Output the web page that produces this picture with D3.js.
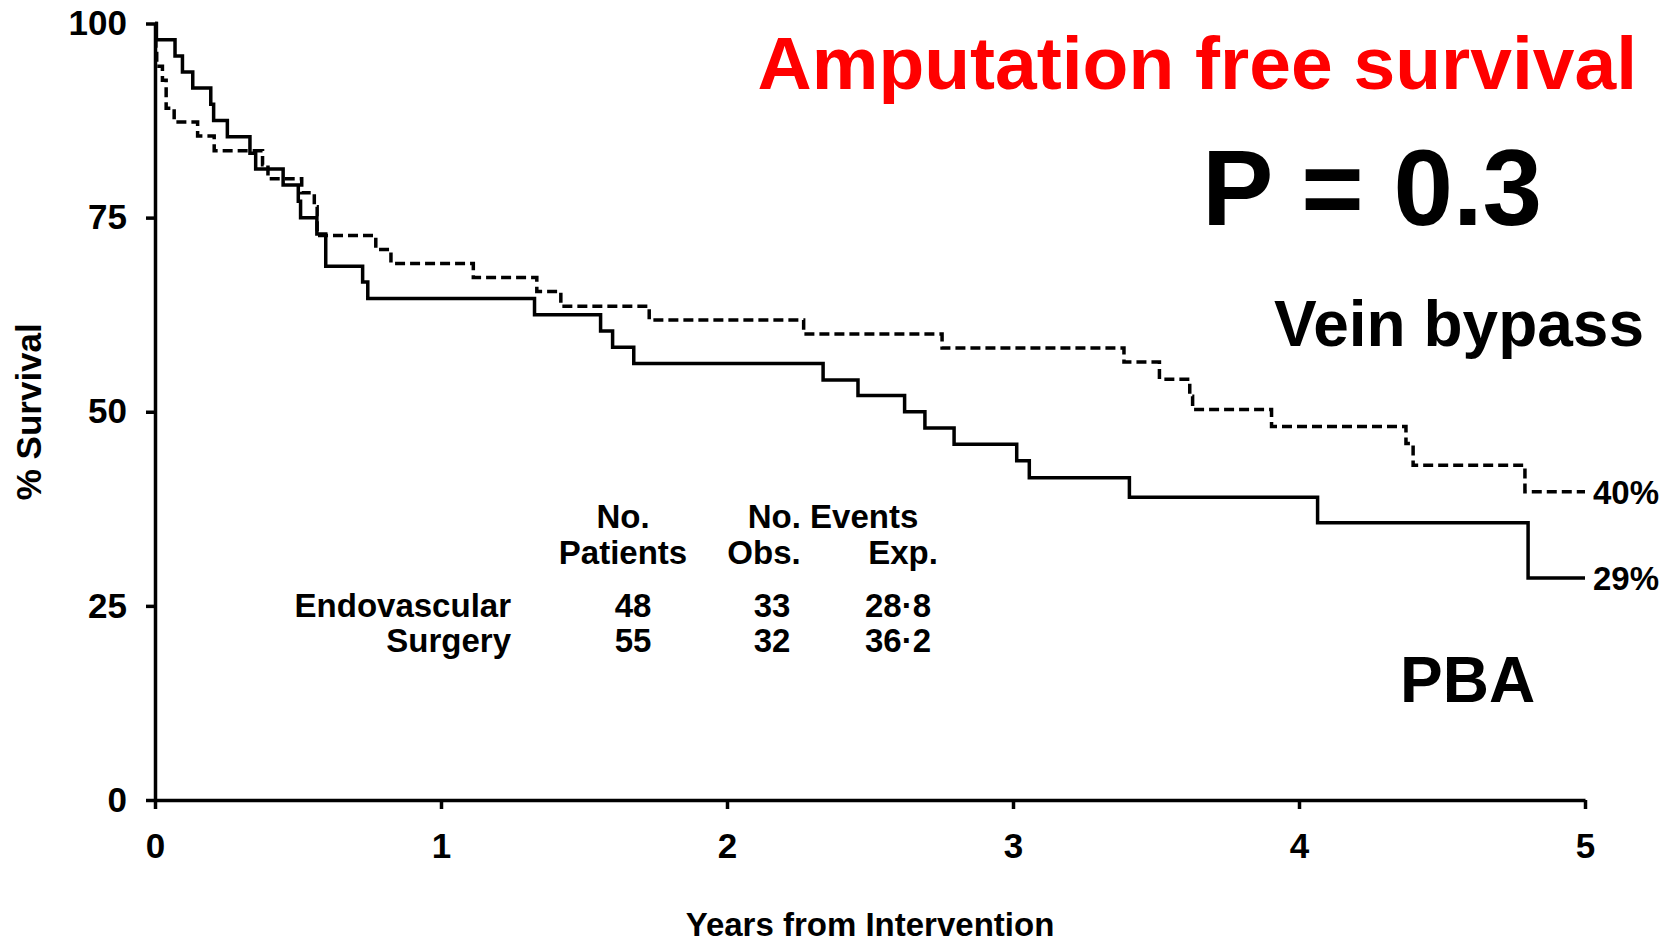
<!DOCTYPE html>
<html>
<head>
<meta charset="utf-8">
<script src="https://cdn.jsdelivr.net/npm/d3@7"></script>
<style>
  body { margin: 0; background: #fff; }
  svg { display: block; font-family: "Liberation Sans", Arial, Helvetica, sans-serif; font-weight: bold; }
  .axis path, .axis line { stroke: #000; stroke-width: 3.5; }
  .axis text { font-size: 35px; fill: #000; }
</style>
</head>
<body>
<script>
// Kaplan-Meier steps: [years, % surviving]
const endoSteps = [
  [0, 100], [0.005, 97.9], [0.07, 95.8], [0.096, 93.75], [0.132, 91.7], [0.195, 89.6],
  [0.205, 87.5], [0.253, 85.4], [0.332, 83.3], [0.352, 81.25], [0.448, 79.2], [0.501, 77.1],
  [0.509, 75.0], [0.566, 72.9], [0.597, 68.75], [0.726, 66.7], [0.744, 64.6], [1.327, 62.5],
  [1.558, 60.4], [1.600, 58.3], [1.674, 56.2], [2.336, 54.1], [2.458, 52.1], [2.621, 50.0],
  [2.692, 47.9], [2.794, 45.8], [3.013, 43.7], [3.057, 41.5], [3.407, 39.0], [4.065, 35.7],
  [4.801, 28.6], [5.0, 28.6]
];
const surgSteps = [
  [0, 100], [0.003, 96.4], [0.006, 94.5], [0.026, 92.7], [0.039, 89.1], [0.067, 87.3],
  [0.149, 85.5], [0.207, 83.6], [0.376, 81.8], [0.395, 80.0], [0.513, 78.2], [0.557, 76.4],
  [0.567, 72.7], [0.772, 70.9], [0.825, 69.1], [1.113, 67.3], [1.335, 65.5], [1.419, 63.6],
  [1.728, 61.8], [2.268, 60.0], [2.752, 58.2], [3.388, 56.4], [3.512, 54.2], [3.618, 52.0],
  [3.628, 50.3], [3.904, 48.1], [4.374, 45.9], [4.399, 43.1], [4.790, 39.7], [5.0, 39.7]
];

const xTicks = [0, 1, 2, 3, 4, 5];
const yTicks = [0, 25, 50, 75, 100];

// summary table
const groups = ['Endovascular', 'Surgery'];
const patients = [48, 55];
const observed = [33, 32];
const expected = [28.8, 36.2];

const width = 1676;
const height = 945;

let svg = d3.select('body')
  .append('svg')
  .attr('width', width)
  .attr('height', height);

let x = d3.scaleLinear().domain([0, 5]).range([155, 1585]);
let y = d3.scaleLinear().domain([0, 100]).range([800, 23.5]);

// axes
svg.append('g')
  .attr('class', 'axis')
  .attr('transform', `translate(0, ${y(0)})`)
  .call(d3.axisBottom(x).tickValues(xTicks).tickFormat(d3.format('d'))
    .tickSize(9).tickSizeOuter(0).tickPadding(24));

svg.append('g')
  .attr('class', 'axis')
  .attr('transform', `translate(${x(0)}, 0)`)
  .call(d3.axisLeft(y).tickValues(yTicks).tickSize(9).tickSizeOuter(0).tickPadding(19));

svg.selectAll('.axis').attr('font-family', null).attr('font-size', null);

// axis titles
svg.append('text')
  .attr('x', (x(0) + x(5)) / 2)
  .attr('y', 936)
  .attr('text-anchor', 'middle')
  .attr('font-size', 33)
  .text('Years from Intervention');

svg.append('text')
  .attr('transform', `translate(41, ${(y(0) + y(100)) / 2}) rotate(-90)`)
  .attr('text-anchor', 'middle')
  .attr('font-size', 35)
  .text('% Survival');

// survival curves
let line = d3.line()
  .x(d => x(d[0]))
  .y(d => y(d[1]))
  .curve(d3.curveStepAfter);

svg.append('path')
  .datum(endoSteps)
  .attr('d', line)
  .attr('fill', 'none')
  .attr('stroke', '#000')
  .attr('stroke-width', 3.5);

svg.append('path')
  .datum(surgSteps)
  .attr('d', line)
  .attr('fill', 'none')
  .attr('stroke', '#000')
  .attr('stroke-width', 3.5)
  .attr('stroke-dasharray', '10,5');

// end percentages
[surgSteps, endoSteps].forEach(s => {
  let last = s[s.length - 1];
  svg.append('text')
    .attr('x', x(last[0]) + 8)
    .attr('y', y(last[1]))
    .attr('dy', '0.36em')
    .attr('font-size', 33)
    .text(Math.round(last[1]) + '%');
});

// table
let fmt = v => d3.format('.1f')(v).replace('.', '\u00b7');
let tbl = svg.append('g').attr('font-size', 33);
tbl.append('text').attr('x', 623).attr('y', 528).attr('text-anchor', 'middle').text('No.');
tbl.append('text').attr('x', 623).attr('y', 564).attr('text-anchor', 'middle').text('Patients');
tbl.append('text').attr('x', 833).attr('y', 528).attr('text-anchor', 'middle').text('No. Events');
tbl.append('text').attr('x', 764).attr('y', 564).attr('text-anchor', 'middle').text('Obs.');
tbl.append('text').attr('x', 903).attr('y', 564).attr('text-anchor', 'middle').text('Exp.');

groups.forEach((g, i) => {
  let yy = 617 + i * 35;
  tbl.append('text').attr('x', 511).attr('y', yy).attr('text-anchor', 'end').text(g);
  tbl.append('text').attr('x', 633).attr('y', yy).attr('text-anchor', 'middle').text(patients[i]);
  tbl.append('text').attr('x', 772).attr('y', yy).attr('text-anchor', 'middle').text(observed[i]);
  tbl.append('text').attr('x', 898).attr('y', yy).attr('text-anchor', 'middle').text(fmt(expected[i]));
});

// annotations
svg.append('text')
  .attr('x', 1637).attr('y', 89)
  .attr('text-anchor', 'end')
  .attr('font-size', 75)
  .attr('fill', '#ff0000')
  .text('Amputation free survival');

svg.append('text')
  .attr('x', 1202).attr('y', 225)
  .attr('font-size', 107)
  .text('P = 0.3');

svg.append('text')
  .attr('x', 1644).attr('y', 346)
  .attr('text-anchor', 'end')
  .attr('font-size', 64)
  .text('Vein bypass');

svg.append('text')
  .attr('x', 1400).attr('y', 702)
  .attr('font-size', 64)
  .text('PBA');
</script>
</body>
</html>
